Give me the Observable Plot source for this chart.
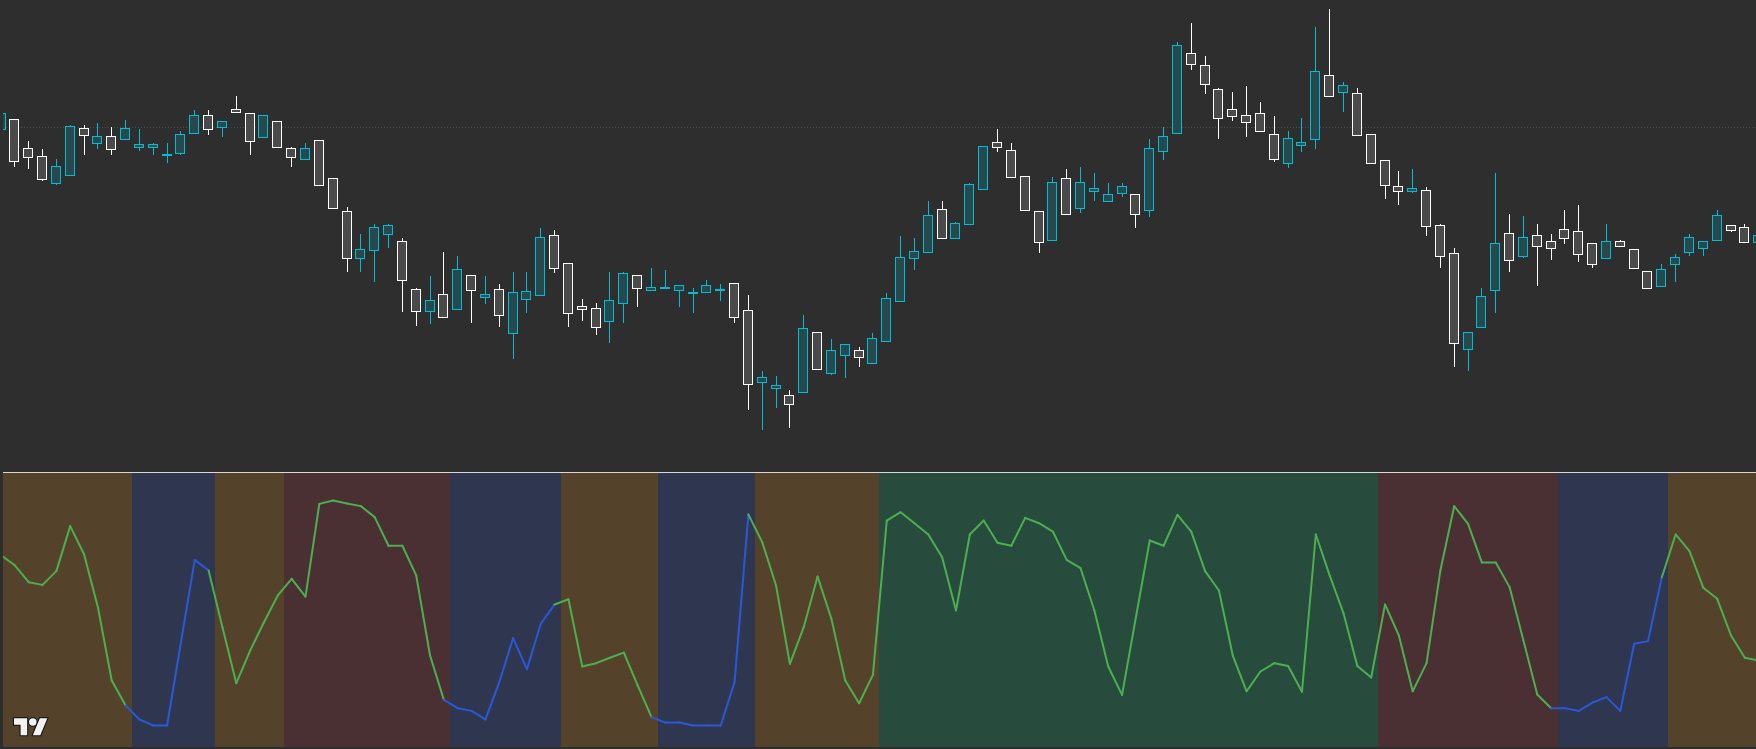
<!DOCTYPE html>
<html><head><meta charset="utf-8">
<script src="https://cdn.jsdelivr.net/npm/d3@7"></script>
<script src="https://cdn.jsdelivr.net/npm/@observablehq/plot@0.6"></script>
<style>
html,body{margin:0;padding:0;background:#2e2e2e;}
#chart{position:relative;width:1756px;height:749px;background:#2e2e2e;overflow:hidden;font-family:"Noto Sans",sans-serif;}
#price{position:absolute;left:3px;top:0;}
#sep{position:absolute;left:3px;top:472px;width:1753px;height:1px;background:#d8d8d8;}
#osc{position:absolute;left:3px;top:473px;}
#logo{position:absolute;left:0;top:0;pointer-events:none;}
</style></head>
<body>
<div id="chart">
  <div id="price"></div>
  <div id="sep"></div>
  <div id="osc"></div>
  <svg id="logo" width="60" height="749" viewBox="0 0 60 749">
    <g transform="translate(14,714.5) scale(0.94)" fill="#f2f2f2" stroke="#111" stroke-width="2.2" paint-order="stroke" stroke-linejoin="miter">
      <path d="M14 22H7V11H0V4h14v18z"/>
      <circle cx="20" cy="8" r="4"/>
      <path d="M28 22h-8l7.5-18h8L28 22z"/>
    </g>
  </svg>
</div>
<script>
// ---- price bars (OHLC) ----
const open = [35.1,36.0,33.1,32.3,29.7,30.5,35.1,33.7,34.3,34.1,
33.3,33.3,32.5,32.7,34.7,36.4,35.3,37.0,36.6,34.3,
35.8,33.1,32.1,33.9,30.1,26.8,22.2,23.0,24.6,23.8,
19.0,16.9,18.5,17.1,20.4,18.3,19.0,14.7,18.1,18.5,
24.4,21.6,17.3,17.1,15.9,17.7,20.4,19.0,19.2,19.0,
18.7,18.8,19.0,19.6,16.9,9.8,9.2,8.4,8.8,14.7,
10.7,12.5,12.9,11.7,13.9,17.9,22.2,22.8,27.0,24.2,
25.6,29.1,33.7,32.9,30.3,26.8,24.0,30.1,27.2,28.9,
27.9,28.7,28.5,27.0,32.9,34.7,42.6,41.4,39.0,37.0,
36.4,36.6,34.5,31.7,33.5,34.1,40.4,38.8,38.6,34.5,
31.9,29.3,28.9,28.9,25.4,22.6,13.1,15.3,19.0,24.6,
22.4,24.4,23.8,25.0,24.8,23.6,22.2,23.8,23.0,20.8,
19.4,21.6,22.8,23.2,24.0,25.4,25.2,23.8];
const high = [36.6,36.0,33.9,33.1,32.1,35.5,35.5,35.7,35.3,36.0,
35.1,33.7,33.7,34.9,37.0,37.0,35.8,38.4,36.6,36.4,
35.8,33.3,33.7,33.9,30.1,27.3,24.6,25.6,25.6,24.2,
19.2,20.4,22.8,22.4,20.4,20.4,19.6,20.8,20.8,25.2,
25.0,21.6,18.1,17.7,20.8,20.8,20.4,21.2,21.0,19.4,
19.2,20.0,19.6,19.6,18.5,10.9,10.4,9.0,16.5,14.7,
14.1,13.5,13.3,14.7,18.7,24.4,24.2,27.9,27.9,25.8,
29.7,33.3,35.1,33.7,30.3,26.8,30.3,31.1,31.3,30.7,
29.7,29.7,28.5,34.1,35.3,43.8,45.7,42.4,39.2,38.8,
39.4,37.8,36.4,34.9,36.2,45.3,47.1,39.8,39.2,34.5,
31.9,30.9,31.1,29.3,25.6,23.2,14.7,19.2,30.7,26.6,
26.4,25.6,24.6,27.0,27.5,23.6,25.6,24.0,23.0,20.8,
21.6,22.6,24.6,23.8,27.0,25.4,25.6,24.4];
const low = [35.1,31.3,31.1,29.9,29.5,30.5,32.5,33.1,32.5,34.1,
32.9,32.5,31.7,32.5,34.7,34.5,34.3,36.8,32.5,34.3,
33.3,31.3,32.1,29.5,27.2,20.8,20.8,19.8,23.2,16.8,
15.4,15.6,16.2,17.1,15.7,17.6,15.3,12.1,16.7,18.5,
20.7,15.3,15.9,14.5,13.7,15.7,17.3,19.0,19.2,17.3,
16.7,18.8,17.9,15.7,7.0,5.0,7.2,5.2,8.8,11.1,
10.5,10.2,11.3,11.7,13.9,17.9,21.0,22.7,24.2,24.2,
25.6,29.1,32.8,30.3,26.9,22.7,24.0,26.6,26.7,27.9,
27.9,28.3,25.2,26.3,32.0,34.7,41.0,38.6,34.1,35.9,
34.3,34.8,31.8,31.2,32.8,33.1,38.4,36.8,34.5,31.7,
28.1,27.5,28.7,24.4,21.2,11.3,10.9,15.3,16.7,20.8,
22.2,19.4,22.0,23.6,21.8,21.2,22.2,23.4,21.2,19.2,
19.4,19.8,22.4,22.4,24.0,24.8,23.8,23.8];
const close = [36.6,31.9,32.3,30.1,31.3,35.3,34.5,34.3,33.1,35.1,
33.5,33.5,32.5,34.5,36.4,35.1,35.8,36.8,33.9,36.4,
33.3,32.3,33.1,29.5,27.2,22.2,23.0,25.2,25.4,20.0,
16.9,17.9,16.3,21.0,19.0,18.5,16.5,18.7,18.8,24.2,
21.2,16.7,17.1,15.3,17.9,20.6,19.2,19.2,19.2,19.4,
18.7,19.4,19.0,16.3,9.6,10.2,9.4,7.6,15.1,11.1,
12.9,13.5,12.3,14.1,18.1,22.2,22.8,26.4,24.2,25.6,
29.5,33.3,33.3,30.3,27.0,23.8,29.7,26.6,29.7,29.1,
28.5,29.3,26.6,33.1,34.3,43.4,41.6,39.6,36.2,36.4,
35.8,34.9,32.1,34.1,33.7,40.8,38.4,39.4,34.5,31.7,
29.5,28.9,29.1,25.4,22.4,13.7,14.7,18.3,23.6,22.0,
24.2,23.4,23.2,24.2,22.6,21.6,23.8,23.4,21.2,19.2,
21.0,22.2,24.2,23.8,26.4,25.0,23.8,24.4];
const gridPrice = 35.3;

// ---- oscillator (0-100) ----
const osc = [75.6,71.2,63.7,62.5,68.6,88.6,76.1,52.6,20.0,8.9,
2.7,0,0,37.0,73.6,68.9,43.7,18.8,33.3,45.9,
57.8,65.2,57.3,98.5,100,98.7,97.5,92.6,79.9,79.9,
66.7,31.1,11.4,7.7,6.5,2.7,19.2,38.8,25.0,45.2,
53.8,56.1,26.2,27.7,30.1,32.4,17.8,3.7,1.3,1.3,
0,0,0,19.2,93.8,81.5,62.2,27.4,43.7,66.2,
47.4,20.0,9.9,22.5,91.1,94.8,89.9,84.9,74.8,51.1,
84.9,91.1,81.2,79.9,92.3,89.9,86.2,73.6,69.9,51.1,
26.2,13.6,48.1,82.2,79.9,93.6,86.2,68.6,60.0,31.1,
15.2,24.0,27.7,26.4,15.0,84.9,66.7,49.9,26.4,21.3,
53.8,40.0,15.2,27.7,68.9,97.5,89.6,72.4,72.4,61.5,
37.8,13.8,7.7,7.7,6.5,10.2,12.6,6.5,36.3,37.5,
65.9,84.9,77.5,61.2,56.3,40.0,30.1,28.9];

// ---- regimes (first bar of each run) ----
const regimeStart = [0,10,16,21,33,41,48,55,64,100,113,121];
const regimeName = ["range","oversold","range","bear","oversold","range","oversold","range","bull","bear","oversold","range"];
const regimeColors = {range:"#54432a", oversold:"#2e3650", bear:"#4a2f33", bull:"#274b3c"};

// ---- derived tables ----
const n = open.length;
const bars = open.map((o,i)=>({i, open:o, high:high[i], low:low[i], close:close[i], up: close[i] >= o}));
const barRegime = [];
regimeStart.forEach((s,k)=>{
  const e = k+1 < regimeStart.length ? regimeStart[k+1]-1 : n-1;
  for (let i=s;i<=e;i++) barRegime[i] = regimeName[k];
});
const runs = regimeStart.map((s,k)=>({start:s, end: k+1<regimeStart.length ? regimeStart[k+1]-1 : n-1, name: regimeName[k]}));
const segs = [];
for (let i=1;i<n;i++) segs.push({x1:i-1, y1:osc[i-1], x2:i, y2:osc[i], reg: barRegime[i]});

const xDomain = [0.18, 126.84];
const half = 0.325;
const upStroke = "#00bcd4", downStroke = "#ffffff";
const upFill = "#26494d", downFill = "#4a4a4a";

const priceChart = Plot.plot({
  width: 1753, height: 472, margin: 0,
  style: {background: "transparent"},
  x: {domain: xDomain, axis: null},
  y: {domain: [0.8, 48], axis: null},
  color: {type: "identity"},
  marks: [
    Plot.ruleY([gridPrice], {stroke: "#4c4c4c", strokeDasharray: "1,2", strokeWidth: 1}),
    Plot.ruleX(bars, {x: "i", y1: "low", y2: "high", stroke: d => d.up ? upStroke : downStroke, strokeWidth: 1, shapeRendering: "crispEdges", clip: true}),
    Plot.rect(bars, {
      x1: d => d.i - half, x2: d => d.i + half,
      y1: d => Math.min(d.open, d.close), y2: d => Math.max(d.open, d.close),
      fill: d => d.up ? upFill : downFill,
      stroke: d => d.up ? upStroke : downStroke,
      strokeWidth: 1, insetTop: -0.5, insetBottom: -0.5,
      shapeRendering: "crispEdges", clip: true
    })
  ]
});
document.getElementById("price").appendChild(priceChart);

const oscChart = Plot.plot({
  width: 1753, height: 274, margin: 0,
  style: {background: "transparent"},
  x: {domain: xDomain, axis: null},
  y: {domain: [-9.78, 112], axis: null},
  color: {type: "identity"},
  marks: [
    Plot.rect(runs, {x1: d => d.start - 0.5, x2: d => d.end + 0.5, fill: d => regimeColors[d.name], shapeRendering: "crispEdges", clip: true}),
    Plot.link(segs, {x1: "x1", y1: "y1", x2: "x2", y2: "y2",
      stroke: d => d.reg === "oversold" ? "#2b58d6" : "#4caf50",
      strokeWidth: 2, strokeLinecap: "round", clip: true})
  ]
});
document.getElementById("osc").appendChild(oscChart);
</script>
</body></html>
